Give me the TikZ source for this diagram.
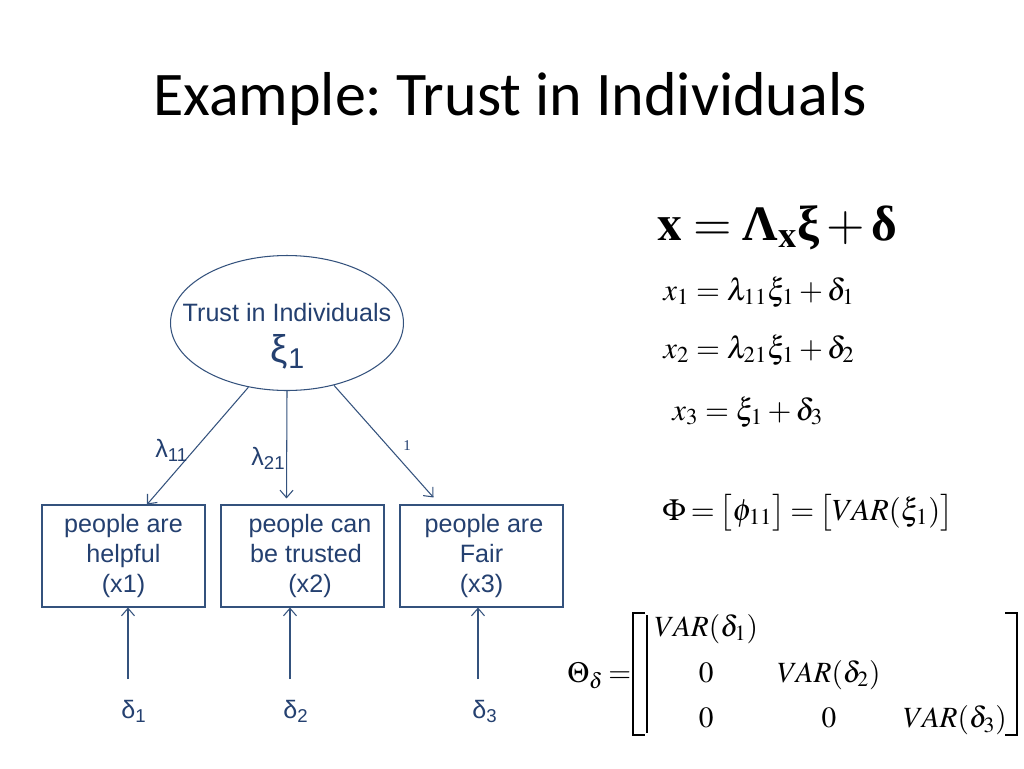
\documentclass[tikz,border=0pt]{standalone}
\usepackage{mathptmx}
\usepackage{fontspec}
\setmainfont{Liberation Serif}
\newfontfamily\diagfont{Liberation Sans}
\newfontfamily\titlefont{Carlito}
\usetikzlibrary{shapes.geometric,arrows.meta}
\definecolor{diagblue}{RGB}{36,64,112}
\definecolor{lineblue}{RGB}{52,82,125}
\frenchspacing
\begin{document}
\begin{tikzpicture}[x=0.02cm,y=-0.02cm,
	latent/.style={draw=lineblue,line width=0.6pt,ellipse,inner sep=0pt,minimum width=4.66cm,minimum height=2.7cm},
	indicator/.style={draw=lineblue,line width=0.6pt,minimum width=3.26cm,minimum height=2.04cm,align=center,text=diagblue,font=\diagfont\fontsize{14.3}{17.3}\selectfont},
	diaglbl/.style={text=diagblue,inner sep=0pt,font=\diagfont\fontsize{14.3}{17}\selectfont},
	link/.style={draw=lineblue,line width=0.6pt,-{Straight Barb[length=1.5mm,width=2.6mm]}},
	eqn/.style={anchor=base west,inner sep=0pt,font=\fontsize{17.5}{21}\selectfont},
	brack/.style={line width=0.9pt}]
	\useasboundingbox[fill=white] (0,0) rectangle (1024,768);
	\node[anchor=base,inner sep=0pt,font=\titlefont\fontsize{35.3}{42}\selectfont] (title) at (510,115) {Example: Trust in Individuals};
	% the factor
	\node[latent] (trust) at (287,323) {};
	\node[diaglbl,anchor=base] (trusttxt) at (287,321) {Trust in Individuals};
	\node[diaglbl,anchor=base,font=\diagfont\fontsize{22}{26}\selectfont] (xi) at (288,362) {ξ\textsubscript{1}};
	% indicators
	\node[indicator] (box1) at (123.5,556) {people are\\helpful\\(x1)};
	\node[indicator] (box2) at (302.5,556) {\hspace*{0.3cm}people can\\\hspace*{0.14cm}be trusted\\\hspace*{0.3cm}(x2)};
	\node[indicator] (box3) at (481.5,556) {\hspace*{0.1cm}people are\\Fair\\(x3)};
	\draw[link] (trust.239) -- ([xshift=0.47cm]box1.north);
	\draw[link] (trust.south) -- ([xshift=-0.32cm,yshift=0.12cm]box2.north);
	\draw[link] (trust.-53) -- ([xshift=-0.96cm,yshift=0.14cm]box3.north);
	\node[diaglbl,anchor=base west] (l11) at (155,457) {λ\textsubscript{11}};
	\node[diaglbl,anchor=base west] (l21) at (251,465) {λ\textsubscript{21}};
	\node[anchor=base,inner sep=0pt,text=diagblue,font=\fontsize{8.5}{10}\selectfont] (l31) at (407,450) {1};
	% errors
	\node[diaglbl,anchor=base west] (d1) at (121,718) {δ\textsubscript{1}};
	\node[diaglbl,anchor=base west] (d2) at (283,718) {δ\textsubscript{2}};
	\node[diaglbl,anchor=base west] (d3) at (472,718) {δ\textsubscript{3}};
	\coordinate (e1) at (128,679);
	\coordinate (e2) at (290,679);
	\coordinate (e3) at (478,679);
	\draw[link] (e1) -- (e1 |- box1.south);
	\draw[link] (e2) -- (e2 |- box2.south);
	\draw[link] (e3) -- (e3 |- box3.south);
	% equations
	\node[eqn,font=\fontsize{28.2}{34}\selectfont] (eqall) at (657,240) {$\mathbf{x} = \mbox{\bfseries Λ}_{\mathbf{x}}\mbox{\bfseries ξ} + \mbox{\bfseries δ}$};
	\node[eqn] (eqx1) at (663,300) {$x_1 = \lambda_{11}\xi_1 + \delta_1$};
	\node[eqn] (eqx2) at (663,358) {$x_2 = \lambda_{21}\xi_1 + \delta_2$};
	\node[eqn] (eqx3) at (672,420) {$x_3 = \xi_1 + \delta_3$};
	\node[eqn] (phi) at (662,520) {\thickmuskip=3mu$\Phi = \bigl[\phi_{11}\bigr] = \bigl[VAR(\xi_1)\bigr]$};
	% covariance matrix of the errors
	\node[eqn,font=\fontsize{16.7}{20}\selectfont] (theta) at (567,682) {$\Theta_\delta \mkern-1mu=$};
	\node[anchor=east,inner sep=0pt,font=\fontsize{16.7}{20}\selectfont] (mat) at (1007,673) {\renewcommand\arraystretch{1.3}$\begin{array}{@{}c@{\hspace{11pt}}c@{\hspace{13pt}}c@{}}
		VAR(\delta_1) & & \\
		0 & VAR(\delta_2) & \\
		0 & 0 & VAR(\delta_3)
	\end{array}$};
	\draw[brack] (645,613) -- (633,613) -- (633,735) -- (645,735);
	\draw[brack] (647,615) -- (647,733);
	\draw[brack] (1005,613) -- (1017,613) -- (1017,735) -- (1005,735);
\end{tikzpicture}
\end{document}
